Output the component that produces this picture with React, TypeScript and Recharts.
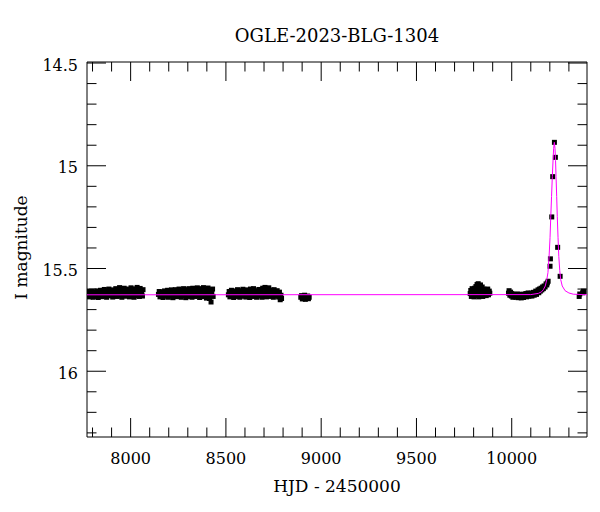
import { Label, Scatter, ScatterChart, XAxis, YAxis } from 'recharts'

// OGLE-2023-BLG-1304 light curve, I-band
const xDomain = [7771, 10395]
const yDomain = [14.495, 16.32]

const xTicks = [
  7800, 7900, 8000, 8100, 8200, 8300, 8400, 8500, 8600, 8700, 8800, 8900, 9000, 9100, 9200,
  9300, 9400, 9500, 9600, 9700, 9800, 9900, 10000, 10100, 10200, 10300,
]
const xLabelTicks = [8000, 8500, 9000, 9500, 10000]
const yTicks = [
  14.5, 14.6, 14.7, 14.8, 14.9, 15, 15.1, 15.2, 15.3, 15.4, 15.5, 15.6, 15.7, 15.8, 15.9, 16,
  16.1, 16.2, 16.3,
]
const yLabelTicks = [14.5, 15, 15.5, 16]

// [HJD - 2450000, I mag]
const season2017 = [
  [7778, 15.628], [7781, 15.612], [7784, 15.638], [7788, 15.62], [7792, 15.633], [7795, 15.61],
  [7799, 15.626], [7803, 15.64], [7806, 15.615], [7810, 15.63], [7814, 15.622], [7818, 15.636],
  [7822, 15.609], [7826, 15.627], [7830, 15.641], [7834, 15.617], [7838, 15.631], [7842, 15.606],
  [7846, 15.624], [7850, 15.637], [7854, 15.613], [7858, 15.629], [7862, 15.602], [7866, 15.634],
  [7870, 15.619], [7874, 15.64], [7878, 15.608], [7882, 15.625], [7886, 15.6], [7890, 15.633],
  [7894, 15.616], [7898, 15.628], [7902, 15.604], [7906, 15.639], [7910, 15.62], [7914, 15.611],
  [7918, 15.632], [7922, 15.598], [7926, 15.624], [7930, 15.636], [7934, 15.607], [7938, 15.621],
  [7942, 15.593], [7946, 15.63], [7950, 15.614], [7954, 15.64], [7958, 15.603], [7962, 15.626],
  [7966, 15.596], [7970, 15.618], [7974, 15.635], [7978, 15.609], [7982, 15.628], [7986, 15.6],
  [7990, 15.622], [7994, 15.638], [7998, 15.612], [8002, 15.594], [8006, 15.63], [8010, 15.606],
  [8014, 15.625], [8018, 15.64], [8022, 15.599], [8026, 15.617], [8030, 15.633], [8034, 15.592],
  [8038, 15.621], [8042, 15.608], [8046, 15.636], [8050, 15.597], [8054, 15.626], [8058, 15.612],
  [8062, 15.634], [8065, 15.603],
]

const season2018 = [
  [8146, 15.626], [8150, 15.612], [8154, 15.638], [8158, 15.62], [8162, 15.632], [8166, 15.614],
  [8170, 15.641], [8174, 15.624], [8178, 15.609], [8182, 15.635], [8186, 15.618], [8190, 15.629],
  [8194, 15.606], [8198, 15.64], [8202, 15.622], [8206, 15.611], [8210, 15.633], [8214, 15.604],
  [8218, 15.626], [8222, 15.642], [8226, 15.615], [8230, 15.63], [8234, 15.603], [8238, 15.62],
  [8242, 15.637], [8246, 15.609], [8250, 15.628], [8254, 15.6], [8258, 15.634], [8262, 15.617],
  [8266, 15.64], [8270, 15.606], [8274, 15.625], [8278, 15.598], [8282, 15.631], [8286, 15.613],
  [8290, 15.642], [8294, 15.603], [8298, 15.622], [8302, 15.636], [8306, 15.598], [8310, 15.618],
  [8314, 15.63], [8318, 15.607], [8322, 15.64], [8326, 15.596], [8330, 15.624], [8334, 15.612],
  [8338, 15.636], [8342, 15.601], [8346, 15.62], [8350, 15.594], [8354, 15.632], [8358, 15.61],
  [8362, 15.641], [8366, 15.598], [8370, 15.626], [8374, 15.605], [8378, 15.637], [8382, 15.593],
  [8386, 15.618], [8390, 15.63], [8394, 15.6], [8398, 15.644], [8402, 15.612], [8406, 15.595],
  [8410, 15.628], [8414, 15.646], [8418, 15.606], [8422, 15.663], [8426, 15.62], [8430, 15.6],
  [8433, 15.636],
]

const season2019 = [
  [8513, 15.628], [8517, 15.612], [8521, 15.638], [8525, 15.62], [8529, 15.606], [8533, 15.633],
  [8537, 15.617], [8541, 15.641], [8545, 15.609], [8549, 15.626], [8553, 15.636], [8557, 15.614],
  [8561, 15.603], [8565, 15.63], [8569, 15.62], [8573, 15.64], [8577, 15.608], [8581, 15.624],
  [8585, 15.635], [8589, 15.601], [8593, 15.618], [8597, 15.632], [8601, 15.61], [8605, 15.639],
  [8609, 15.622], [8613, 15.604], [8617, 15.628], [8621, 15.614], [8625, 15.641], [8629, 15.6],
  [8633, 15.626], [8637, 15.612], [8641, 15.636], [8645, 15.598], [8649, 15.62], [8653, 15.633],
  [8657, 15.608], [8661, 15.64], [8665, 15.616], [8669, 15.627], [8673, 15.602], [8677, 15.634],
  [8681, 15.612], [8685, 15.624], [8689, 15.64], [8693, 15.596], [8697, 15.617], [8701, 15.63],
  [8705, 15.592], [8709, 15.621], [8713, 15.638], [8717, 15.6], [8721, 15.626], [8725, 15.594],
  [8729, 15.613], [8733, 15.636], [8737, 15.605], [8741, 15.628], [8745, 15.617], [8749, 15.64],
  [8753, 15.603], [8757, 15.624], [8761, 15.612], [8765, 15.634], [8769, 15.608], [8773, 15.622],
  [8777, 15.639], [8781, 15.615], [8785, 15.652], [8789, 15.63], [8792, 15.646],
]

const season2020 = [
  [8893, 15.64], [8897, 15.632], [8901, 15.648], [8905, 15.636], [8909, 15.645], [8913, 15.63],
  [8917, 15.65], [8921, 15.638], [8925, 15.644], [8929, 15.634], [8933, 15.647], [8937, 15.64],
]

const season2022 = [
  [9782, 15.622], [9785, 15.607], [9788, 15.636], [9792, 15.598], [9795, 15.628], [9798, 15.614],
  [9802, 15.638], [9805, 15.596], [9808, 15.62], [9812, 15.588], [9815, 15.632], [9818, 15.578],
  [9821, 15.61], [9824, 15.574], [9827, 15.638], [9830, 15.593], [9833, 15.62], [9836, 15.58],
  [9839, 15.605], [9842, 15.63], [9845, 15.59], [9848, 15.636], [9851, 15.612], [9854, 15.6],
  [9858, 15.625], [9862, 15.604], [9866, 15.632], [9870, 15.615], [9874, 15.6], [9878, 15.628],
  [9882, 15.61], [9885, 15.62],
]

const season2023 = [
  [9983, 15.62], [9986, 15.608], [9990, 15.63], [9994, 15.615], [9998, 15.634], [10002, 15.622],
  [10006, 15.64], [10010, 15.628], [10014, 15.636], [10018, 15.626], [10022, 15.64], [10026, 15.632],
  [10030, 15.624], [10034, 15.642], [10038, 15.63], [10042, 15.637], [10046, 15.626], [10050, 15.643],
  [10054, 15.633], [10058, 15.625], [10062, 15.641], [10066, 15.63], [10070, 15.636], [10074, 15.622],
  [10078, 15.638], [10082, 15.628], [10086, 15.619], [10090, 15.635], [10094, 15.624], [10098, 15.632],
  [10102, 15.62], [10106, 15.634], [10110, 15.624], [10114, 15.616], [10118, 15.63], [10122, 15.618],
  [10126, 15.61], [10130, 15.626], [10134, 15.612], [10138, 15.604], [10142, 15.618], [10146, 15.6],
  [10150, 15.61], [10154, 15.596], [10158, 15.604], [10162, 15.59], [10166, 15.598], [10170, 15.585],
  [10175, 15.59], [10180, 15.575], [10184, 15.58], [10187, 15.57], [10191, 15.562], [10201, 15.489],
  [10203, 15.453], [10210, 15.249], [10215, 15.053], [10224, 14.886], [10229, 14.959], [10241, 15.397],
  [10254, 15.538], [10354, 15.636], [10357, 15.624], [10372, 15.618], [10376, 15.61], [10379, 15.614],
]

// fitted point-lens model
const model = [
  [7771, 15.628], [10100, 15.627], [10140, 15.621], [10157, 15.613], [10166, 15.603], [10176, 15.585],
  [10184, 15.554], [10190, 15.52], [10196, 15.441], [10201, 15.35], [10205, 15.246], [10209, 15.15],
  [10213, 15.052], [10217, 14.97], [10220, 14.915], [10223.5, 14.886], [10227, 14.915], [10230, 14.975],
  [10232.5, 15.052], [10236, 15.15], [10239, 15.246], [10243, 15.35], [10247, 15.441], [10252, 15.51],
  [10257, 15.554], [10265, 15.585], [10280, 15.608], [10300, 15.619], [10323, 15.625], [10395, 15.628],
]

const toPoints = (rows: number[][]) => rows.map(([hjd, mag]) => ({ hjd, mag }))

const observed = toPoints([
  ...season2017,
  ...season2018,
  ...season2019,
  ...season2020,
  ...season2022,
  ...season2023,
])
const modelPoints = toPoints(model)

const FONT = '"DejaVu Serif", serif'
const MAJOR = 19
const MINOR = 9.5

const isMajorY = (v: number) => yLabelTicks.some((t) => Math.abs(t - v) < 1e-6)

function BottomTick({ x, y, payload }: any) {
  const major = xLabelTicks.includes(payload.value)
  return (
    <g>
      <line x1={x} x2={x} y1={y} y2={y - (major ? MAJOR : MINOR)} stroke="#000" />
      {major && (
        <text x={x} y={y + 27} textAnchor="middle" fontFamily={FONT} fontSize={16} fill="#000">
          {payload.value}
        </text>
      )}
    </g>
  )
}

function TopTick({ x, y, payload }: any) {
  const major = xLabelTicks.includes(payload.value)
  return <line x1={x} x2={x} y1={y} y2={y + (major ? MAJOR : MINOR)} stroke="#000" />
}

function LeftTick({ x, y, payload }: any) {
  const major = isMajorY(payload.value)
  return (
    <g>
      <line x1={x} x2={x + (major ? MAJOR : MINOR)} y1={y} y2={y} stroke="#000" />
      {major && (
        <text x={x - 9} y={y + 7.5} textAnchor="end" fontFamily={FONT} fontSize={16} fill="#000">
          {String(Number(payload.value.toFixed(1)))}
        </text>
      )}
    </g>
  )
}

function RightTick({ x, y, payload }: any) {
  const major = isMajorY(payload.value)
  return <line x1={x} x2={x - (major ? MAJOR : MINOR)} y1={y} y2={y} stroke="#000" />
}

const Square = ({ cx, cy }: any) => <rect x={cx - 2.5} y={cy - 2.5} width={5} height={5} fill="#000" />
const NoMarker = () => <g />

export default function App() {
  return (
    <div style={{ position: 'absolute', left: 0, top: 0, background: '#fff' }}>
      <ScatterChart width={600} height={512} margin={{ top: 61, right: 12, bottom: 0, left: 0 }}>
        <XAxis
          xAxisId="bottom"
          type="number"
          dataKey="hjd"
          domain={xDomain}
          allowDataOverflow
          ticks={xTicks}
          interval={0}
          tickSize={0}
          tickMargin={0}
          tick={<BottomTick />}
          axisLine={{ stroke: '#000' }}
          height={75}
        >
          <Label
            content={({ viewBox }: any) => (
              <text
                x={viewBox.x + viewBox.width / 2}
                y={viewBox.y + 55}
                textAnchor="middle"
                fontFamily={FONT}
                fontSize={17}
                fill="#000"
              >
                HJD - 2450000
              </text>
            )}
          />
        </XAxis>
        <XAxis
          xAxisId="top"
          orientation="top"
          type="number"
          dataKey="hjd"
          domain={xDomain}
          allowDataOverflow
          ticks={xTicks}
          interval={0}
          tickSize={0}
          tickMargin={0}
          tick={<TopTick />}
          axisLine={{ stroke: '#000' }}
          height={1}
        >
          <Label
            content={({ viewBox }: any) => (
              <text
                x={viewBox.x + viewBox.width / 2}
                y={41.5}
                textAnchor="middle"
                fontFamily={FONT}
                fontSize={18}
                fill="#000"
              >
                OGLE-2023-BLG-1304
              </text>
            )}
          />
        </XAxis>
        <YAxis
          yAxisId="left"
          type="number"
          dataKey="mag"
          domain={yDomain}
          reversed
          allowDataOverflow
          ticks={yTicks}
          interval={0}
          tickSize={0}
          tickMargin={0}
          tick={<LeftTick />}
          axisLine={{ stroke: '#000' }}
          width={87}
        >
          <Label
            content={({ viewBox }: any) => (
              <text
                x={27}
                y={viewBox.y + viewBox.height / 2 - 2}
                transform={`rotate(-90, 27, ${viewBox.y + viewBox.height / 2 - 2})`}
                textAnchor="middle"
                fontFamily={FONT}
                fontSize={17}
                fill="#000"
              >
                I magnitude
              </text>
            )}
          />
        </YAxis>
        <YAxis
          yAxisId="right"
          orientation="right"
          type="number"
          dataKey="mag"
          domain={yDomain}
          reversed
          allowDataOverflow
          ticks={yTicks}
          interval={0}
          tickSize={0}
          tickMargin={0}
          tick={<RightTick />}
          axisLine={{ stroke: '#000' }}
          width={1}
        />
        <Scatter
          data={observed}
          xAxisId="bottom"
          yAxisId="left"
          shape={Square}
          isAnimationActive={false}
        />
        <Scatter
          data={modelPoints}
          xAxisId="top"
          yAxisId="right"
          line={{ stroke: '#ff00ff', strokeWidth: 1 }}
          lineType="joint"
          shape={NoMarker}
          isAnimationActive={false}
        />
      </ScatterChart>
    </div>
  )
}
